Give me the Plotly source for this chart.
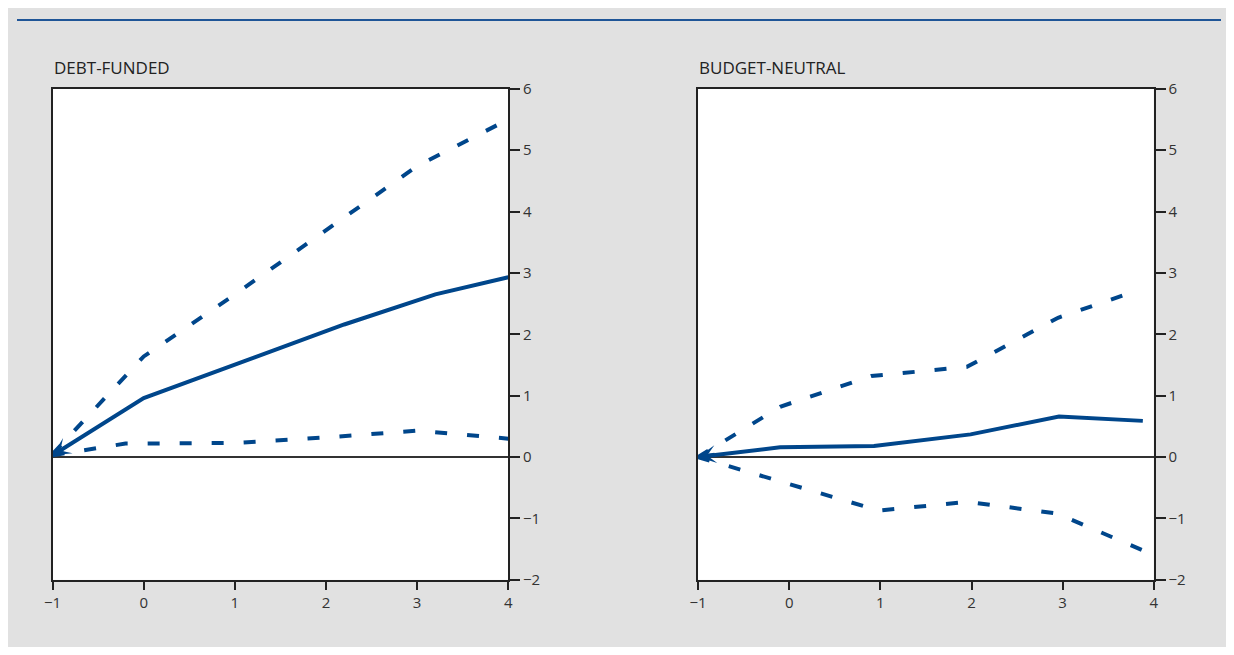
import plotly.graph_objects as go

# rendered figure size (page keeps an 8px body margin)
W, H = 1218, 639
OFF = 8
BLUE = "#00468b"

# DEBT-FUNDED panel
df_mid_x = [-1, 0, 2.2, 3.2, 4]
df_mid_y = [0.03, 0.96, 2.16, 2.65, 2.93]
df_up_x = [-1, 0, 1, 2, 3, 4]
df_up_y = [0.05, 1.64, 2.65, 3.7, 4.74, 5.5]
df_lo_x = [-1, -0.2, 1, 2, 3, 4]
df_lo_y = [0.03, 0.22, 0.23, 0.32, 0.43, 0.3]

# BUDGET-NEUTRAL panel
bn_mid_x = [-1, -0.1, 0.93, 1.99, 2.96, 3.88]
bn_mid_y = [0.0, 0.16, 0.18, 0.37, 0.66, 0.59]
bn_up_x = [-1, -0.1, 0.9, 1.95, 2.95, 3.85]
bn_up_y = [0.0, 0.82, 1.32, 1.47, 2.27, 2.73]
bn_lo_x = [-1, 0.98, 1.96, 2.94, 3.88]
bn_lo_y = [0.0, -0.87, -0.73, -0.92, -1.52]

titles = ["DEBT-FUNDED", "BUDGET-NEUTRAL"]
x_ticks = [-1, 0, 1, 2, 3, 4]
y_ticks = [-2, -1, 0, 1, 2, 3, 4, 5, 6]


def fx(px):
    return (px - OFF) / W


def fy(py):
    return 1 - (py - OFF) / H


fig = go.Figure()
dash = "12px,20px"


def add(xs, ys, xa, ya, d=None):
    fig.add_trace(go.Scatter(x=xs, y=ys, xaxis=xa, yaxis=ya, mode="lines",
                             line=dict(color=BLUE, width=4, dash=d or "solid"),
                             showlegend=False, hoverinfo="skip"))


add(df_up_x, df_up_y, "x", "y", dash)
add(df_lo_x, df_lo_y, "x", "y", dash)
add(df_mid_x, df_mid_y, "x", "y")
add(bn_up_x, bn_up_y, "x2", "y2", dash)
add(bn_lo_x, bn_lo_y, "x2", "y2", dash)
add(bn_mid_x, bn_mid_y, "x2", "y2")

ydom = [fy(587), fy(80)]
FAM = "Open Sans, DejaVu Sans, sans-serif"
font = dict(family=FAM, size=15, color="#333333")


def xaxis(dom, anchor):
    return dict(domain=dom, range=[-1, 4], anchor=anchor, tickvals=x_ticks,
                showgrid=False, zeroline=False, showline=True, linecolor="#222",
                linewidth=1.5, mirror=True, ticks="outside", ticklen=8,
                tickcolor="#222", tickwidth=1.5, tickfont=font, fixedrange=True)


def yaxis(anchor):
    return dict(domain=ydom, range=[-2, 6], anchor=anchor, side="right",
                tickvals=y_ticks, showgrid=False, zeroline=True,
                zerolinecolor="#333", zerolinewidth=1.5, showline=True,
                linecolor="#222", linewidth=1.5, mirror=True, ticks="outside",
                ticklen=10, tickcolor="#222", tickwidth=1.5, tickfont=font,
                fixedrange=True)


fig.update_layout(
    width=W, height=H,
    margin=dict(l=0, r=0, t=0, b=0),
    paper_bgcolor="#e1e1e1",
    plot_bgcolor="white",
    xaxis=xaxis([fx(44), fx(505)], "y"),
    yaxis=yaxis("x"),
    xaxis2=xaxis([fx(697), fx(1158)], "y2"),
    yaxis2=yaxis("x2"),
    shapes=[
        dict(type="line", xref="paper", yref="paper", x0=0, x1=1,
             y0=1 - 1 / H, y1=1 - 1 / H, line=dict(color="#1f5597", width=2)),
    ],
    annotations=[
        dict(text=titles[0], xref="paper", yref="paper", x=fx(43), y=fy(58),
             xanchor="left", yanchor="middle", showarrow=False,
             font=dict(family=FAM, size=17, color="#222")),
        dict(text=titles[1], xref="paper", yref="paper", x=fx(696), y=fy(58),
             xanchor="left", yanchor="middle", showarrow=False,
             font=dict(family=FAM, size=17, color="#222")),
        dict(text="", x=df_mid_x[0], y=df_mid_y[0], xref="x", yref="y",
             showarrow=True, arrowhead=3, arrowsize=1, arrowwidth=3,
             arrowcolor=BLUE, ax=16, ay=-10, standoff=0),
        dict(text="", x=bn_mid_x[0], y=bn_mid_y[0], xref="x2", yref="y2",
             showarrow=True, arrowhead=3, arrowsize=1, arrowwidth=3,
             arrowcolor=BLUE, ax=18, ay=-3, standoff=0),
    ],
)

fig.write_html("out.html", config={"displayModeBar": False})
